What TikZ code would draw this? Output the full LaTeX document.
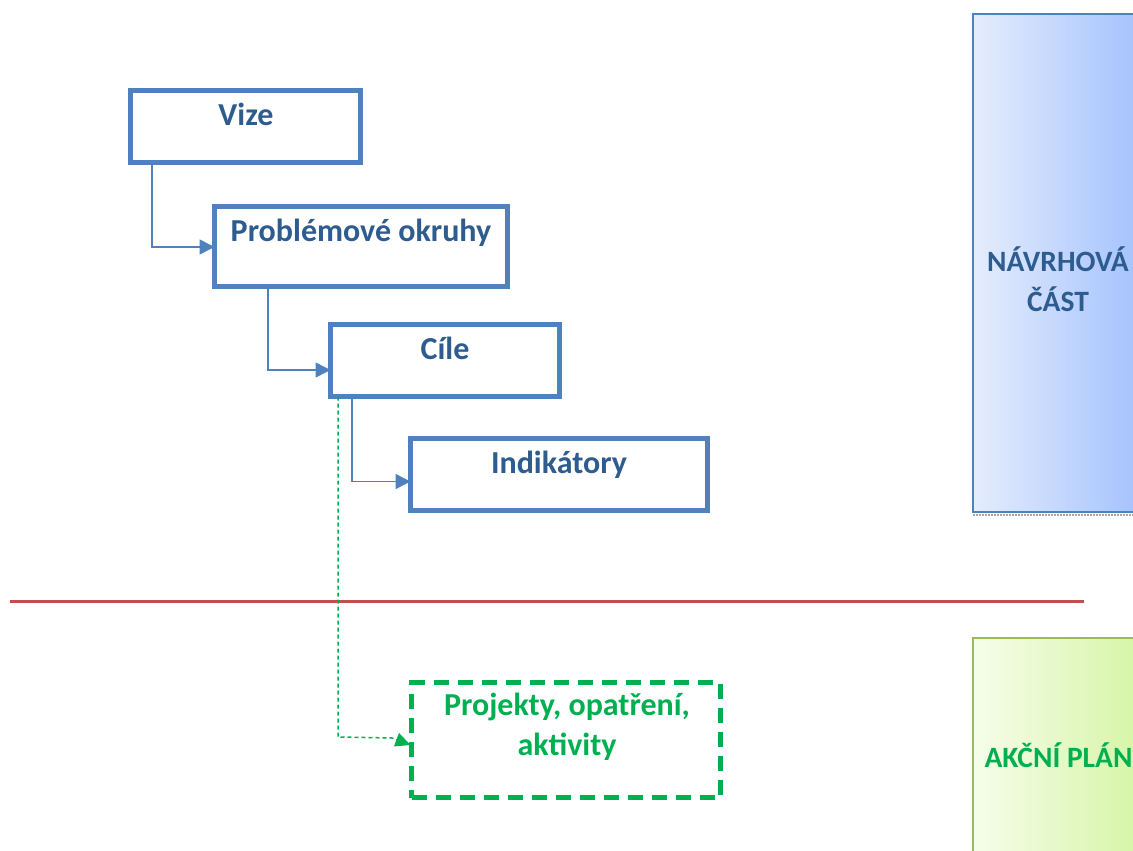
\documentclass[tikz,border=0pt]{standalone}
\usepackage{fontspec}
\setmainfont{Carlito}
\usetikzlibrary{calc,arrows.meta}
\definecolor{boxblue}{RGB}{79,129,189}
\definecolor{txtblue}{RGB}{46,92,143}
\definecolor{redline}{RGB}{192,80,77}
\definecolor{grn}{RGB}{0,176,80}
\definecolor{panelblueL}{RGB}{229,237,253}
\definecolor{panelblueR}{RGB}{164,194,254}
\definecolor{panelgreenL}{RGB}{246,253,234}
\definecolor{panelgreenR}{RGB}{214,245,166}
\definecolor{panelgreenB}{RGB}{155,187,89}
\tikzset{
  bluebox/.style={draw=boxblue, line width=5.5pt, rectangle, inner sep=0pt, outer sep=0pt, fill=white},
  greenbox/.style={draw=grn, line width=5pt, rectangle, inner sep=0pt, outer sep=0pt, dash pattern=on 15pt off 9pt},
  btxt/.style={text=txtblue, font=\fontsize{32}{40}\selectfont\bfseries, anchor=base, inner sep=0pt},
  gtxt/.style={text=grn, font=\fontsize{32}{40}\selectfont\bfseries, align=center, inner sep=0pt},
  ptxt/.style={font=\fontsize{29.5}{40}\selectfont\bfseries, align=center, inner sep=0pt},
  conn/.style={draw=boxblue, line width=1.5pt, -{Triangle[length=15pt,width=15pt]}},
  dconn/.style={draw=grn, line width=1.5pt, dash pattern=on 4pt off 3pt, -{Triangle[length=15pt,width=14pt]}},
}
\begin{document}
\begin{tikzpicture}[x=1pt,y=-1pt]
\useasboundingbox (0,0) rectangle (1133,851);
% panels
\path[draw=boxblue, line width=2pt, left color=panelblueL, right color=panelblueR] (973,14) rectangle (1140,512);
\draw[gray!70, line width=2pt, densely dotted] (973,514.5) -- (1140,514.5);
\path[draw=panelgreenB, line width=2pt, left color=panelgreenL, right color=panelgreenR] (973,638) rectangle (1140,860);
\node[ptxt, text=txtblue] (navrh) at (1058,279) {NÁVRHOVÁ\\ČÁST};
\node[ptxt, text=grn, anchor=base] (akcni) at (1058.5,767) {AKČNÍ PLÁN};
% red line
\coordinate (rl) at (10,601);
\coordinate (rr) at (1084,601);
\draw[redline, line width=3pt] (rl) -- (rr);
% boxes
\node[bluebox, minimum width=230pt, minimum height=72pt] (vize) at (245.5,126.5) {};
\node[bluebox, minimum width=293pt, minimum height=80pt] (prob) at (361,246.5) {};
\node[bluebox, minimum width=229pt, minimum height=72pt] (cile) at (445,360.5) {};
\node[bluebox, minimum width=297pt, minimum height=72pt] (indik) at (559,474.5) {};
\node[greenbox, minimum width=309pt, minimum height=115pt] (proj) at (566,740) {};
% texts
\node[btxt] (tvize) at (246,125) {Vize};
\node[btxt] (tprob) at (361,241.5) {Problémové okruhy};
\node[btxt] (tcile) at (445,359) {Cíle};
\node[btxt] (tindik) at (559,473) {Indikátory};
\node[gtxt] (tproj) at (567,727) {Projekty, opatření,\\aktivity};
% connectors
\draw[conn] ($(vize.south west)+(21.5,0)$) |- ($(prob.west)+(0,0.5)$);
\draw[conn] ($(prob.south west)+(53.5,0)$) |- ($(cile.west)+(0,9.5)$);
\draw[conn] ($(cile.south west)+(21.5,0)$) |- ($(indik.west)+(0,7)$);
\coordinate (d1) at ($(cile.south west)+(7.5,0)$);
\coordinate (d2) at (338,737);
\coordinate (d3) at (392,738);
\draw[dconn] (d1) -- (d2) -- (d3) -- ($(proj.west)+(-1,5)$);
\end{tikzpicture}
\end{document}
